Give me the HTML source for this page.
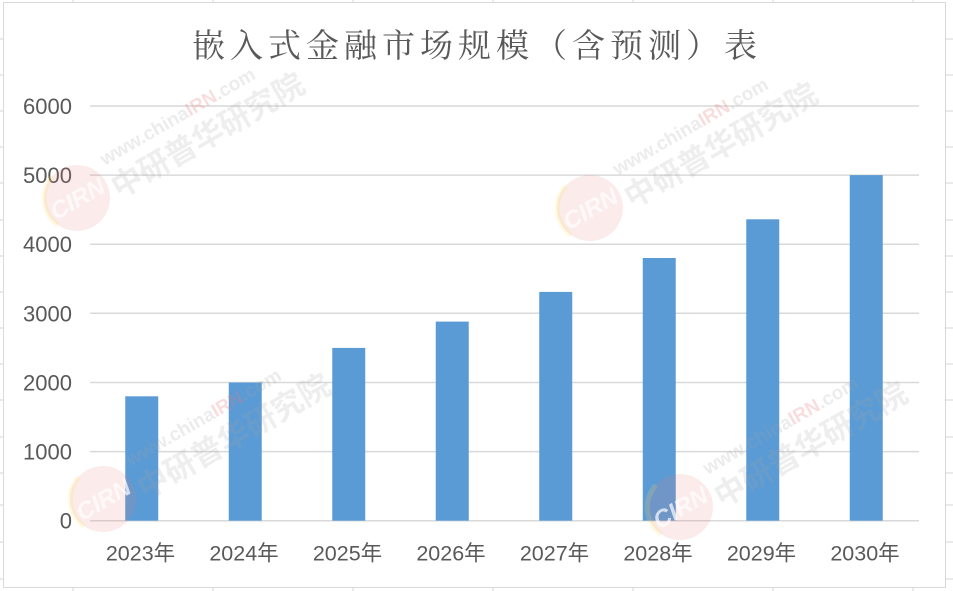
<!DOCTYPE html>
<html><head><meta charset="utf-8"><style>
html,body{margin:0;padding:0;background:#fff;}
svg{display:block;}
</style></head><body>
<svg width="953" height="591" viewBox="0 0 953 591" xmlns="http://www.w3.org/2000/svg">
<rect x="0" y="0" width="953" height="591" fill="#fff"/>
<g stroke="#d6d6d6" stroke-width="1">
<line x1="0" y1="39" x2="3" y2="39"/><line x1="0" y1="75" x2="3" y2="75"/><line x1="0" y1="111" x2="3" y2="111"/><line x1="0" y1="147" x2="3" y2="147"/><line x1="0" y1="183" x2="3" y2="183"/><line x1="0" y1="220" x2="3" y2="220"/><line x1="0" y1="256" x2="3" y2="256"/><line x1="0" y1="292" x2="3" y2="292"/><line x1="0" y1="328" x2="3" y2="328"/><line x1="0" y1="364" x2="3" y2="364"/><line x1="0" y1="400" x2="3" y2="400"/><line x1="0" y1="437" x2="3" y2="437"/><line x1="0" y1="473" x2="3" y2="473"/><line x1="0" y1="505" x2="3" y2="505"/><line x1="0" y1="542" x2="3" y2="542"/><line x1="0" y1="579" x2="3" y2="579"/>
<line x1="946" y1="39" x2="953" y2="39"/><line x1="946" y1="75" x2="953" y2="75"/><line x1="946" y1="111" x2="953" y2="111"/><line x1="946" y1="147" x2="953" y2="147"/><line x1="946" y1="183" x2="953" y2="183"/><line x1="946" y1="220" x2="953" y2="220"/><line x1="946" y1="256" x2="953" y2="256"/><line x1="946" y1="292" x2="953" y2="292"/><line x1="946" y1="328" x2="953" y2="328"/><line x1="946" y1="364" x2="953" y2="364"/><line x1="946" y1="400" x2="953" y2="400"/><line x1="946" y1="437" x2="953" y2="437"/><line x1="946" y1="473" x2="953" y2="473"/><line x1="946" y1="505" x2="953" y2="505"/><line x1="946" y1="542" x2="953" y2="542"/><line x1="946" y1="579" x2="953" y2="579"/>
<line x1="73" y1="0" x2="73" y2="2"/><line x1="213" y1="0" x2="213" y2="2"/><line x1="353" y1="0" x2="353" y2="2"/><line x1="493" y1="0" x2="493" y2="2"/><line x1="633" y1="0" x2="633" y2="2"/><line x1="773" y1="0" x2="773" y2="2"/><line x1="913" y1="0" x2="913" y2="2"/>
<line x1="73" y1="588" x2="73" y2="591"/><line x1="213" y1="588" x2="213" y2="591"/><line x1="353" y1="588" x2="353" y2="591"/><line x1="493" y1="588" x2="493" y2="591"/><line x1="633" y1="588" x2="633" y2="591"/><line x1="773" y1="588" x2="773" y2="591"/><line x1="913" y1="588" x2="913" y2="591"/>
</g>
<rect x="3.5" y="2.5" width="942" height="585" fill="#fff" stroke="#d9d9d9" stroke-width="1"/>
<text x="477" y="57" text-anchor="middle" font-family="'Liberation Serif','Noto Serif CJK SC',serif" font-size="33" letter-spacing="5" fill="#595959">嵌入式金融市场规模（含预测）表</text>
<g stroke="#d9d9d9" stroke-width="1.5">
<line x1="90" y1="106" x2="919" y2="106"/>
<line x1="90" y1="175.1" x2="919" y2="175.1"/>
<line x1="90" y1="244.2" x2="919" y2="244.2"/>
<line x1="90" y1="313.3" x2="919" y2="313.3"/>
<line x1="90" y1="382.5" x2="919" y2="382.5"/>
<line x1="90" y1="451.6" x2="919" y2="451.6"/>
<line x1="90" y1="520.7" x2="919" y2="520.7"/>
</g>
<g font-family="'Liberation Sans',sans-serif" font-size="22" fill="#595959" text-anchor="end">
<text x="72" y="114">6000</text>
<text x="72" y="183.1">5000</text>
<text x="72" y="252.2">4000</text>
<text x="72" y="321.3">3000</text>
<text x="72" y="390.5">2000</text>
<text x="72" y="459.6">1000</text>
<text x="72" y="528.7">0</text>
</g>
<g fill="#5b9bd5">
<rect x="125.25" y="396.3" width="33" height="124.4"/>
<rect x="228.75" y="382.5" width="33" height="138.2"/>
<rect x="332.25" y="347.9" width="33" height="172.8"/>
<rect x="435.75" y="321.6" width="33" height="199.1"/>
<rect x="539.25" y="291.9" width="33" height="228.8"/>
<rect x="642.75" y="258" width="33" height="262.7"/>
<rect x="746.25" y="219.3" width="33" height="301.4"/>
<rect x="849.75" y="175.1" width="33" height="345.6"/>
</g>
<g font-family="'Liberation Sans','Noto Sans CJK SC',sans-serif" font-size="21.5" fill="#595959" text-anchor="middle">
<text x="140.5" y="560.5">2023年</text>
<text x="244" y="560.5">2024年</text>
<text x="347.5" y="560.5">2025年</text>
<text x="451" y="560.5">2026年</text>
<text x="554.5" y="560.5">2027年</text>
<text x="658" y="560.5">2028年</text>
<text x="761.5" y="560.5">2029年</text>
<text x="865" y="560.5">2030年</text>
</g>
<defs>
<g id="wm">
<circle cx="0" cy="0" r="33" fill="rgba(235,120,120,0.15)"/>
<path d="M -30 14 A 33 33 0 0 1 -10 -31" stroke="rgba(250,220,90,0.18)" stroke-width="5" fill="none"/>
<text x="0" y="9" text-anchor="middle" font-family="'Liberation Sans',sans-serif" font-weight="bold" font-style="italic" font-size="24" fill="rgba(255,255,255,0.7)">CIRN</text>
<text x="40" y="-14" font-family="'Liberation Sans',sans-serif" font-weight="bold" font-size="19" fill="rgba(160,160,160,0.2)">www.china<tspan fill="rgba(230,120,120,0.25)">IRN</tspan>.com</text>
<text x="36" y="22" font-family="'Liberation Sans','Noto Sans CJK SC',sans-serif" font-weight="bold" font-size="31" fill="rgba(160,160,160,0.18)">中研普华研究院</text>
</g>
</defs>
<use href="#wm" transform="translate(77,198) rotate(-30)"/>
<use href="#wm" transform="translate(590,208) rotate(-30)"/>
<use href="#wm" transform="translate(103,499) rotate(-30)"/>
<use href="#wm" transform="translate(680,507) rotate(-30)"/>
</svg>
</body></html>
